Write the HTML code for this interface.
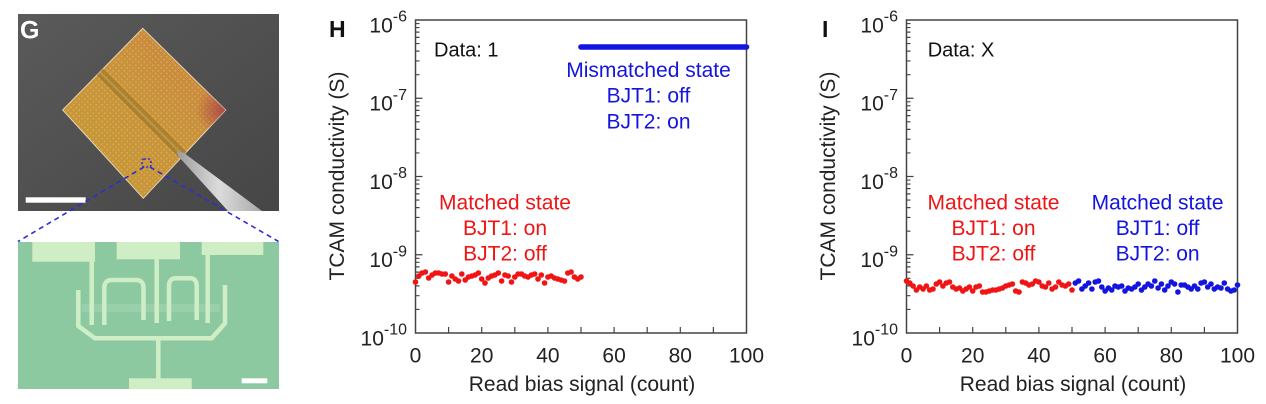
<!DOCTYPE html>
<html><head><meta charset="utf-8"><style>
html,body{margin:0;padding:0;background:#fff;}
svg{display:block;font-family:"Liberation Sans",Arial,sans-serif;}
</style></head><body>
<svg width="1266" height="404" viewBox="0 0 1266 404" xmlns="http://www.w3.org/2000/svg">
<defs>
<marker id="mr" viewBox="-3 -3 6 6" markerWidth="6" markerHeight="6" markerUnits="userSpaceOnUse" refX="0" refY="0"><circle r="2.8" fill="#f01414"/></marker>
<marker id="mb" viewBox="-3 -3 6 6" markerWidth="6" markerHeight="6" markerUnits="userSpaceOnUse" refX="0" refY="0"><circle r="2.8" fill="#1414e0"/></marker>
<linearGradient id="bgG" x1="0" y1="0" x2="1" y2="1"><stop offset="0" stop-color="#5a5a5a"/><stop offset="1" stop-color="#464646"/></linearGradient>
<linearGradient id="chipG" x1="0" y1="1" x2="1" y2="0"><stop offset="0" stop-color="#c49a36"/><stop offset="0.55" stop-color="#c9933c"/><stop offset="1" stop-color="#c98040"/></linearGradient>
<radialGradient id="redG" cx="222" cy="110" r="26" gradientUnits="userSpaceOnUse"><stop offset="0" stop-color="#a83848" stop-opacity="0.75"/><stop offset="1" stop-color="#a83848" stop-opacity="0"/></radialGradient>
<linearGradient id="penG" x1="0" y1="0" x2="1" y2="0"><stop offset="0" stop-color="#9a9a9a"/><stop offset="0.5" stop-color="#dcdcdc"/><stop offset="1" stop-color="#a8a8a8"/></linearGradient>
<pattern id="gridP" width="4" height="4" patternUnits="userSpaceOnUse" patternTransform="rotate(45)"><rect width="4" height="4" fill="none"/><circle cx="2" cy="2" r="0.9" fill="#e8c070" fill-opacity="0.55"/></pattern>
<clipPath id="chipC"><polygon points="142.7,28.3 225.7,110 143.3,198.3 62.7,110"/></clipPath>
<clipPath id="topC"><rect x="18" y="14" width="261" height="197"/></clipPath>
</defs>

<!-- Panel G top photo -->
<g clip-path="url(#topC)">
<rect x="18" y="14" width="261" height="197" fill="url(#bgG)"/>
<polygon points="142.7,28.3 225.7,110 143.3,198.3 62.7,110" fill="url(#chipG)" stroke="#e6d6b6" stroke-width="1"/>
<g clip-path="url(#chipC)">
<rect x="60" y="26" width="170" height="175" fill="url(#gridP)"/>
<rect x="60" y="26" width="170" height="175" fill="url(#redG)"/>
<line x1="98" y1="70" x2="186" y2="158" stroke="#8a6a20" stroke-opacity="0.5" stroke-width="9"/>
<line x1="98" y1="70" x2="186" y2="158" stroke="#d8b060" stroke-opacity="0.5" stroke-width="2"/>
</g>
<polygon points="176,151 184,153 262,211 228,211 179,157" fill="url(#penG)"/>
<rect x="25.7" y="197.3" width="60" height="5.4" fill="#fff"/>
<text x="20" y="38.5" font-size="25" font-weight="bold" fill="#fff">G</text>
</g>

<!-- Panel G bottom photo -->
<rect x="18" y="242" width="261" height="147" fill="#8cc9a0"/>
<rect x="81.7" y="304" width="138" height="8" fill="#fff" fill-opacity="0.12"/>
<g fill="#cfeec6">
<rect x="32.3" y="242" width="62.7" height="19.7"/>
<rect x="116.7" y="242" width="63.3" height="17.3"/>
<rect x="201.7" y="242" width="61.6" height="13"/>
<rect x="129" y="378.3" width="62.7" height="10.7"/>
</g>
<g fill="none" stroke="#cfeec6" stroke-width="4.5">
<path d="M91.7,260 V325"/>
<path d="M156.7,258 V323"/>
<path d="M207.7,254 V323"/>
<path d="M104.3,325 V288 Q104.3,280 112,280 H136 Q143.5,280 143.5,288 V320"/>
<path d="M169,321 V286 Q169,278.3 176,278.3 H190 Q196.7,278.3 196.7,286 V320"/>
<path d="M78.3,290 V326 L95,338.3 H211.7 L225,323.3 V285"/>
<path d="M158.3,338 V379"/>
</g>
<rect x="241.7" y="378.3" width="25.6" height="5" fill="#fff"/>

<!-- dashed zoom lines -->
<g fill="none" stroke="#2e2ed0" stroke-width="1.6">
<rect x="142" y="159" width="9" height="8" rx="2" stroke-dasharray="2,2"/>
<line x1="144" y1="167" x2="18" y2="241.5" stroke-dasharray="5,4"/>
<line x1="150" y1="167" x2="278.5" y2="241.5" stroke-dasharray="5,4"/>
</g>

<!-- Axis templates -->
<g id="axH">
<rect x="415.5" y="20" width="331" height="313" fill="none" stroke="#444" stroke-width="1.5"/>
<path fill="none" stroke="#444" stroke-width="1.2" d="
M415.5,254.75 h7 M415.5,176.5 h7 M415.5,98.25 h7
M415.5,309.44 h4 M415.5,295.67 h4 M415.5,285.89 h4 M415.5,278.31 h4 M415.5,272.11 h4 M415.5,266.87 h4 M415.5,262.33 h4 M415.5,258.33 h4
M415.5,231.19 h4 M415.5,217.42 h4 M415.5,207.64 h4 M415.5,200.06 h4 M415.5,193.86 h4 M415.5,188.62 h4 M415.5,184.08 h4 M415.5,180.08 h4
M415.5,152.94 h4 M415.5,139.17 h4 M415.5,129.39 h4 M415.5,121.81 h4 M415.5,115.61 h4 M415.5,110.37 h4 M415.5,105.83 h4 M415.5,101.83 h4
M415.5,74.69 h4 M415.5,60.92 h4 M415.5,51.14 h4 M415.5,43.56 h4 M415.5,37.36 h4 M415.5,32.12 h4 M415.5,27.58 h4 M415.5,23.58 h4
M448.6,333 v-6 M481.7,333 v-6 M514.8,333 v-6 M547.9,333 v-6 M581,333 v-6 M614.1,333 v-6 M647.2,333 v-6 M680.3,333 v-6 M713.4,333 v-6"/>
<g font-size="21" fill="#222" text-anchor="end">
<text x="407" y="32.3">10<tspan font-size="16" dy="-10.6">-6</tspan></text>
<text x="407" y="110.5">10<tspan font-size="16" dy="-10.6">-7</tspan></text>
<text x="407" y="188.8">10<tspan font-size="16" dy="-10.6">-8</tspan></text>
<text x="407" y="267">10<tspan font-size="16" dy="-10.6">-9</tspan></text>
<text x="407" y="345.3">10<tspan font-size="16" dy="-10.6">-10</tspan></text>
</g>
<g font-size="21" fill="#222" text-anchor="middle">
<text x="415.5" y="362.5">0</text>
<text x="481.7" y="362.5">20</text>
<text x="547.9" y="362.5">40</text>
<text x="614.1" y="362.5">60</text>
<text x="680.3" y="362.5">80</text>
<text x="746.5" y="362.5">100</text>
<text x="582" y="391">Read bias signal (count)</text>
<text transform="translate(344,176) rotate(-90)">TCAM conductivity (S)</text>
</g>
</g>
<use href="#axH" transform="translate(491,0)"/>

<!-- Panel H -->
<text x="329" y="37" font-size="23" font-weight="bold" fill="#111">H</text>
<text x="434" y="56.5" font-size="20" fill="#111">Data: 1</text>
<g font-size="21" text-anchor="middle" fill="#1414e0">
<text x="648.5" y="77">Mismatched state</text>
<text x="648.5" y="102.7">BJT1: off</text>
<text x="648.5" y="128.3">BJT2: on</text>
</g>
<g font-size="21" text-anchor="middle" fill="#f01414">
<text x="505" y="209.3">Matched state</text>
<text x="505" y="235">BJT1: on</text>
<text x="505" y="260.7">BJT2: off</text>
</g>
<line x1="581" y1="47" x2="746.5" y2="47" stroke="#1414e0" stroke-width="5.6" stroke-linecap="round"/>
<polyline fill="none" stroke="none" marker-start="url(#mr)" marker-mid="url(#mr)" marker-end="url(#mr)" points="415.5,282 418.8,276 422.1,273 425.4,272 428.7,278 432.1,275 435.4,273 438.7,273 442,274 445.3,274 448.6,282 451.9,276 455.2,279 458.5,281 461.8,274 465.2,280 468.5,277 471.8,276 475.1,275 478.4,273 481.7,279 485,283 488.3,278 491.6,276 494.9,275 498.3,273 501.6,281 504.9,275 508.2,276 511.5,282 514.8,277 518.1,274 521.4,274 524.7,276 528,277 531.4,275 534.7,274 538,279 541.3,275 544.6,283 547.9,277 551.2,276 554.5,278 557.8,279 561.1,280 564.5,281 567.8,273 571.1,272 574.4,277 577.7,279 581,277"/>

<!-- Panel I -->
<text x="822" y="37" font-size="23" font-weight="bold" fill="#111">I</text>
<text x="927.7" y="56.5" font-size="20" fill="#111">Data: X</text>
<g font-size="21" text-anchor="middle" fill="#f01414">
<text x="993.5" y="209.3">Matched state</text>
<text x="993.5" y="235">BJT1: on</text>
<text x="993.5" y="260.7">BJT2: off</text>
</g>
<g font-size="21" text-anchor="middle" fill="#1414e0">
<text x="1157.6" y="209.3">Matched state</text>
<text x="1157.6" y="235">BJT1: off</text>
<text x="1157.6" y="260.7">BJT2: on</text>
</g>
<g transform="translate(491,0)">
<polyline fill="none" stroke="none" marker-start="url(#mb)" marker-mid="url(#mb)" marker-end="url(#mb)" points="584.3,283 587.6,281 590.9,289 594.2,286 597.6,283 600.9,289 604.2,282 607.5,281 610.8,287 614.1,291 617.4,288 620.7,290 624,286 627.3,287 630.7,286 634,291 637.3,288 640.6,289 643.9,287 647.2,284 650.5,290 653.8,287 657.1,284 660.4,286 663.8,281 667.1,288 670.4,284 673.7,290 677,286 680.3,282 683.6,284 686.9,292 690.2,285 693.5,285 696.9,287 700.2,289 703.5,286 706.8,289 710.1,283 713.4,282 716.7,287 720,284 723.3,289 726.6,287 730,288 733.3,283 736.6,289 739.9,291 743.2,290 746.5,285"/>
<polyline fill="none" stroke="none" marker-start="url(#mr)" marker-mid="url(#mr)" marker-end="url(#mr)" points="415.5,281 418.8,283 422.1,286 425.4,290 428.7,287 432.1,289 435.4,286 438.7,290 442,289 445.3,284 448.6,282 451.9,286 455.2,283 458.5,282 461.8,287 465.2,289 468.5,288 471.8,291 475.1,289 478.4,287 481.7,291 485,287 488.3,286 491.6,292 494.9,292 498.3,291 501.6,290 504.9,290 508.2,289 511.5,288 514.8,286 518.1,285 521.4,284 524.7,291 528,292 531.4,282 534.7,283 538,285 541.3,284 544.6,281 547.9,282 551.2,286 554.5,287 557.8,283 561.1,289 564.5,287 567.8,282 571.1,285 574.4,286 577.7,284 581,290"/>
</g>
</svg>
</body></html>
